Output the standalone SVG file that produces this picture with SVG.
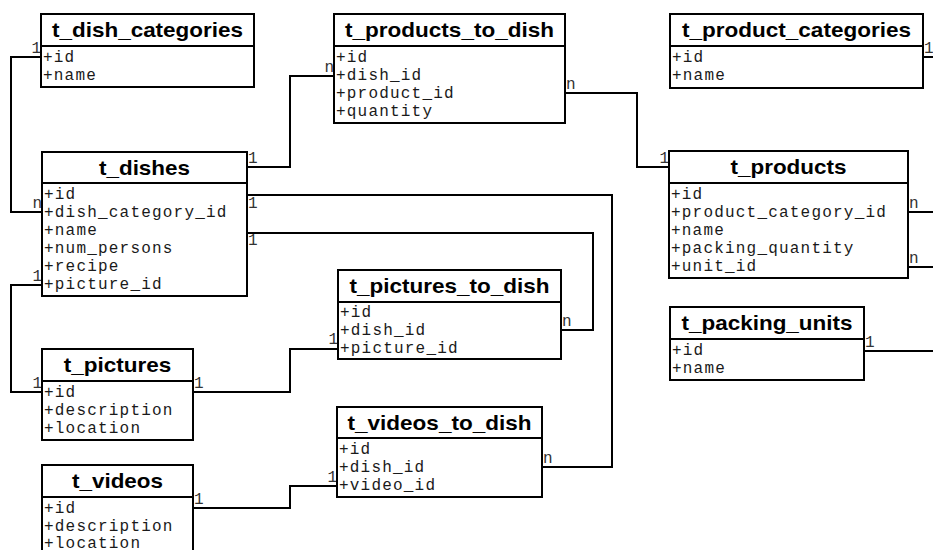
<svg xmlns="http://www.w3.org/2000/svg" width="933" height="550" viewBox="0 0 933 550">
<style>
.box{fill:#fff;stroke:#000;stroke-width:2}
.sep{stroke:#000;stroke-width:2}
.hd{font-family:"Liberation Sans",Arial,sans-serif;font-weight:bold;font-size:21px;text-anchor:middle;fill:#000}
.row{font-family:"Liberation Mono","Courier New",monospace;font-size:16px;letter-spacing:1.2px;fill:#1a1a1a}
.lbl{font-family:"Liberation Mono","Courier New",monospace;font-size:16px;fill:#333}
.end{text-anchor:end}
.con{fill:none;stroke:#000;stroke-width:2}
</style>
<rect width="933" height="550" fill="#fff"/>
<g id="connectors">
<polyline class="con" points="41,57 11,57 11,212 42,212"/>
<polyline class="con" points="247,167 290,167 290,76 334,76"/>
<polyline class="con" points="565,93 637,93 637,167 669,167"/>
<polyline class="con" points="923,57 945,57 945,212 908,212"/>
<polyline class="con" points="908,267 945,267 945,351 864,351"/>
<polyline class="con" points="247,195 612,195 612,467 542,467"/>
<polyline class="con" points="247,233 593,233 593,330 561,330"/>
<polyline class="con" points="42,285 11,285 11,392 42,392"/>
<polyline class="con" points="193,392 290,392 290,349 338,349"/>
<polyline class="con" points="193,508 290,508 290,486 337,486"/>
<text class="lbl end" x="41" y="53">1</text>
<text class="lbl end" x="42" y="208">n</text>
<text class="lbl" x="248" y="163">1</text>
<text class="lbl end" x="334" y="72">n</text>
<text class="lbl" x="566" y="89">n</text>
<text class="lbl end" x="669" y="163">1</text>
<text class="lbl" x="924" y="53">1</text>
<text class="lbl" x="909" y="208">n</text>
<text class="lbl" x="909" y="263">n</text>
<text class="lbl" x="865" y="347">1</text>
<text class="lbl" x="248" y="208">1</text>
<text class="lbl" x="543" y="463">n</text>
<text class="lbl" x="248" y="245">1</text>
<text class="lbl" x="562" y="326">n</text>
<text class="lbl end" x="42" y="281">1</text>
<text class="lbl end" x="42" y="388">1</text>
<text class="lbl" x="194" y="388">1</text>
<text class="lbl end" x="338" y="344">1</text>
<text class="lbl" x="194" y="504">1</text>
<text class="lbl end" x="337" y="482">1</text>
</g>
<g id="t_dish_categories">
<rect class="box" x="41" y="14" width="213" height="73"/>
<line class="sep" x1="41" y1="46" x2="254" y2="46"/>
<text class="hd" x="147.5" y="37" textLength="191" lengthAdjust="spacingAndGlyphs">t_dish_categories</text>
<text class="row" x="43" y="61.5">+id</text>
<text class="row" x="43" y="79.5">+name</text>
</g>
<g id="t_products_to_dish">
<rect class="box" x="334" y="14" width="231" height="109"/>
<line class="sep" x1="334" y1="46" x2="565" y2="46"/>
<text class="hd" x="449.5" y="37" textLength="209" lengthAdjust="spacingAndGlyphs">t_products_to_dish</text>
<text class="row" x="336" y="61.5">+id</text>
<text class="row" x="336" y="79.5">+dish_id</text>
<text class="row" x="336" y="97.5">+product_id</text>
<text class="row" x="336" y="115.5">+quantity</text>
</g>
<g id="t_product_categories">
<rect class="box" x="670" y="14" width="253" height="74"/>
<line class="sep" x1="670" y1="46" x2="923" y2="46"/>
<text class="hd" x="796.5" y="37" textLength="229" lengthAdjust="spacingAndGlyphs">t_product_categories</text>
<text class="row" x="672" y="61.5">+id</text>
<text class="row" x="672" y="79.5">+name</text>
</g>
<g id="t_dishes">
<rect class="box" x="42" y="152" width="205" height="144"/>
<line class="sep" x1="42" y1="183" x2="247" y2="183"/>
<text class="hd" x="144.5" y="174.5" textLength="91" lengthAdjust="spacingAndGlyphs">t_dishes</text>
<text class="row" x="44" y="198.5">+id</text>
<text class="row" x="44" y="216.5">+dish_category_id</text>
<text class="row" x="44" y="234.5">+name</text>
<text class="row" x="44" y="252.5">+num_persons</text>
<text class="row" x="44" y="270.5">+recipe</text>
<text class="row" x="44" y="288.5">+picture_id</text>
</g>
<g id="t_products">
<rect class="box" x="669" y="151" width="239" height="127"/>
<line class="sep" x1="669" y1="183" x2="908" y2="183"/>
<text class="hd" x="788.5" y="174" textLength="116" lengthAdjust="spacingAndGlyphs">t_products</text>
<text class="row" x="671" y="198.5">+id</text>
<text class="row" x="671" y="216.5">+product_category_id</text>
<text class="row" x="671" y="234.5">+name</text>
<text class="row" x="671" y="252.5">+packing_quantity</text>
<text class="row" x="671" y="270.5">+unit_id</text>
</g>
<g id="t_pictures_to_dish">
<rect class="box" x="338" y="270" width="223" height="89"/>
<line class="sep" x1="338" y1="302" x2="561" y2="302"/>
<text class="hd" x="449.5" y="293" textLength="200" lengthAdjust="spacingAndGlyphs">t_pictures_to_dish</text>
<text class="row" x="340" y="317">+id</text>
<text class="row" x="340" y="335">+dish_id</text>
<text class="row" x="340" y="353">+picture_id</text>
</g>
<g id="t_packing_units">
<rect class="box" x="670" y="307" width="194" height="73"/>
<line class="sep" x1="670" y1="339" x2="864" y2="339"/>
<text class="hd" x="767" y="330" textLength="171" lengthAdjust="spacingAndGlyphs">t_packing_units</text>
<text class="row" x="672" y="354.5">+id</text>
<text class="row" x="672" y="372.5">+name</text>
</g>
<g id="t_pictures">
<rect class="box" x="42" y="349" width="151" height="91"/>
<line class="sep" x1="42" y1="381" x2="193" y2="381"/>
<text class="hd" x="117.5" y="372" textLength="107.5" lengthAdjust="spacingAndGlyphs">t_pictures</text>
<text class="row" x="44" y="396.5">+id</text>
<text class="row" x="44" y="414.5">+description</text>
<text class="row" x="44" y="432.5">+location</text>
</g>
<g id="t_videos_to_dish">
<rect class="box" x="337" y="407" width="205" height="90"/>
<line class="sep" x1="337" y1="438" x2="542" y2="438"/>
<text class="hd" x="439.5" y="429.5" textLength="184" lengthAdjust="spacingAndGlyphs">t_videos_to_dish</text>
<text class="row" x="339" y="453.5">+id</text>
<text class="row" x="339" y="471.5">+dish_id</text>
<text class="row" x="339" y="489.5">+video_id</text>
</g>
<g id="t_videos">
<rect class="box" x="42" y="465" width="151" height="95"/>
<line class="sep" x1="42" y1="497" x2="193" y2="497"/>
<text class="hd" x="117.5" y="488" textLength="91" lengthAdjust="spacingAndGlyphs">t_videos</text>
<text class="row" x="44" y="512.5">+id</text>
<text class="row" x="44" y="530.5">+description</text>
<text class="row" x="44" y="548">+location</text>
</g>
</svg>
